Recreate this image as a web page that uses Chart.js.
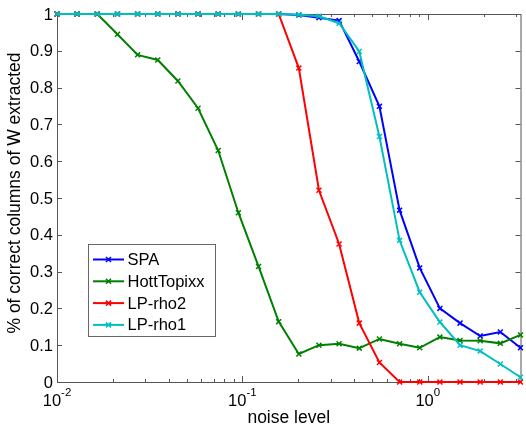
<!DOCTYPE html>
<html>
<head>
<meta charset="utf-8">
<script src="https://cdn.jsdelivr.net/npm/chart.js@4.4.1/dist/chart.umd.min.js"></script>
<style>
  body { margin: 0; background: #fff; }
  canvas { display: block; }
</style>
</head>
<body>
<canvas id="noise-chart" width="526" height="426"></canvas>
<script>
// noise levels (log-spaced from 1e-2 to 10^0.5)
const noiseLevels = [0.0100, 0.01284, 0.01649, 0.02119, 0.02721, 0.03495, 0.04489, 0.05766,
    0.07406, 0.09513, 0.12218, 0.15693, 0.20152, 0.25882, 0.33236, 0.42696,
    0.54838, 0.70437, 0.90471, 1.16197, 1.49241, 1.91680, 2.46187, 3.16228];

const spa = [1, 1, 1, 1, 1, 1, 1, 1, 1, 1, 1, 1,
    0.997, 0.99, 0.982, 0.871, 0.749, 0.467, 0.31, 0.2, 0.16, 0.125, 0.136, 0.093];
const hottTopixx = [1, 1, 1, 0.945, 0.889, 0.875, 0.818, 0.744, 0.629, 0.46, 0.314, 0.164,
    0.076, 0.1, 0.104, 0.092, 0.117, 0.104, 0.093, 0.122, 0.113, 0.112, 0.105, 0.128];
const lpRho2 = [1, 1, 1, 1, 1, 1, 1, 1, 1, 1, 1, 1,
    0.853, 0.521, 0.375, 0.16, 0.053, 0, 0, 0, 0, 0, 0, 0];
const lpRho1 = [1, 1, 1, 1, 1, 1, 1, 1, 1, 1, 1, 1,
    0.998, 0.994, 0.975, 0.898, 0.667, 0.385, 0.244, 0.163, 0.1, 0.084, 0.049, 0.013];

const seriesNames = ["SPA", "HottTopixx", "LP-rho2", "LP-rho1"];
const seriesColors = ["#0000ff", "#008000", "#ff0000", "#00bfbf"];

const yTicks = [0, 0.1, 0.2, 0.3, 0.4, 0.5, 0.6, 0.7, 0.8, 0.9, 1];
const yTickLabels = ["0", "0.1", "0.2", "0.3", "0.4", "0.5", "0.6", "0.7", "0.8", "0.9", "1"];
const xMajor = [0.01, 0.1, 1];
const xMajorExp = ["-2", "-1", "0"];

const FONT = "'Liberation Sans', Arial, sans-serif";
const AXIS_COLOR = "#555";

function toPoints(vals) {
    return vals.map(function(v, i) { return { x: noiseLevels[i], y: v }; });
}

function drawCross(ctx, x, y, r) {
    ctx.beginPath();
    ctx.moveTo(x - r, y - r); ctx.lineTo(x + r, y + r);
    ctx.moveTo(x - r, y + r); ctx.lineTo(x + r, y - r);
    ctx.stroke();
}

// MATLAB-like box axes, inward ticks, labels and legend
const matlabAxes = {
    id: 'matlabAxes',
    beforeDatasetsDraw(chart) {
        const ctx = chart.ctx;
        const a = chart.chartArea;
        const xs = chart.scales.x, ys = chart.scales.y;
        ctx.save();
        ctx.strokeStyle = AXIS_COLOR;
        ctx.lineWidth = 1;
        ctx.strokeRect(a.left + 0.5, a.top + 0.5, a.right - a.left, a.bottom - a.top);

        ctx.beginPath();
        yTicks.forEach(function(v) {
            const y = Math.round(ys.getPixelForValue(v)) + 0.5;
            ctx.moveTo(a.left, y); ctx.lineTo(a.left + 5, y);
            ctx.moveTo(a.right, y); ctx.lineTo(a.right - 5, y);
        });
        const lo = Math.log10(xs.min), hi = Math.log10(xs.max);
        for (let e = Math.floor(lo); e <= Math.ceil(hi); e++) {
            for (let k = 1; k <= 9; k++) {
                const v = k * Math.pow(10, e);
                if (v < xs.min - 1e-12 || v > xs.max + 1e-12) continue;
                const x = Math.round(xs.getPixelForValue(v)) + 0.5;
                const len = k === 1 ? 6 : 3;
                ctx.moveTo(x, a.bottom); ctx.lineTo(x, a.bottom - len);
                ctx.moveTo(x, a.top); ctx.lineTo(x, a.top + len);
            }
        }
        ctx.stroke();

        // tick labels
        ctx.fillStyle = "#000";
        ctx.font = "16.5px " + FONT;
        ctx.textAlign = "right";
        ctx.textBaseline = "middle";
        yTicks.forEach(function(v, i) {
            ctx.fillText(yTickLabels[i], a.left - 4, ys.getPixelForValue(v) + 1);
        });
        ctx.textAlign = "left";
        ctx.textBaseline = "alphabetic";
        xMajor.forEach(function(v, i) {
            const x = xs.getPixelForValue(v);
            ctx.font = "16.5px " + FONT;
            const wb = ctx.measureText("10").width;
            ctx.font = "11.5px " + FONT;
            const we = ctx.measureText(xMajorExp[i]).width;
            const x0 = x - (wb + we) / 2;
            ctx.font = "16.5px " + FONT;
            ctx.fillText("10", x0, 406);
            ctx.font = "11.5px " + FONT;
            ctx.fillText(xMajorExp[i], x0 + wb, 396);
        });

        // axis titles
        ctx.font = "17.5px " + FONT;
        ctx.textAlign = "center";
        ctx.fillText("noise level", (a.left + a.right) / 2, 423);
        ctx.save();
        ctx.translate(20, 193);
        ctx.rotate(-Math.PI / 2);
        ctx.fillText("% of correct columns of W extracted", 0, 0);
        ctx.restore();
        ctx.restore();
    },
    afterDraw(chart) {
        const ctx = chart.ctx;
        ctx.save();
        ctx.fillStyle = "#fff";
        ctx.fillRect(88.5, 244.5, 127, 92);
        ctx.strokeStyle = "#666";
        ctx.lineWidth = 1;
        ctx.strokeRect(88.5, 244.5, 127, 92);
        ctx.font = "16.5px " + FONT;
        ctx.textBaseline = "middle";
        ctx.textAlign = "left";
        seriesNames.forEach(function(name, i) {
            const y = 259.5 + i * 21.8;
            ctx.strokeStyle = seriesColors[i];
            ctx.lineWidth = 2;
            ctx.beginPath();
            ctx.moveTo(93, y); ctx.lineTo(124, y);
            ctx.stroke();
            ctx.lineWidth = 1.5;
            drawCross(ctx, 108.5, y, 2.5);
            ctx.fillStyle = "#000";
            ctx.fillText(name, 127.5, y + 1);
        });
        ctx.restore();
    }
};

const seriesData = [spa, hottTopixx, lpRho2, lpRho1];

new Chart(document.getElementById("noise-chart"), {
    type: 'line',
    data: {
        datasets: seriesData.map(function(vals, i) {
            return {
                label: seriesNames[i],
                data: toPoints(vals),
                borderColor: seriesColors[i],
                backgroundColor: seriesColors[i],
                borderWidth: 2,
                pointStyle: 'crossRot',
                pointRadius: 3.5,
                pointBorderWidth: 1.5,
                tension: 0,
                clip: 8,
                order: 4 - i
            };
        })
    },
    options: {
        responsive: false,
        animation: false,
        layout: { padding: { left: 57, right: 1, top: 14, bottom: 44 } },
        plugins: {
            legend: { display: false },
            tooltip: { enabled: false }
        },
        scales: {
            x: { type: 'logarithmic', min: 0.01, max: 3.16228, display: false },
            y: { type: 'linear', min: 0, max: 1, display: false }
        }
    },
    plugins: [matlabAxes]
});
</script>
</body>
</html>
